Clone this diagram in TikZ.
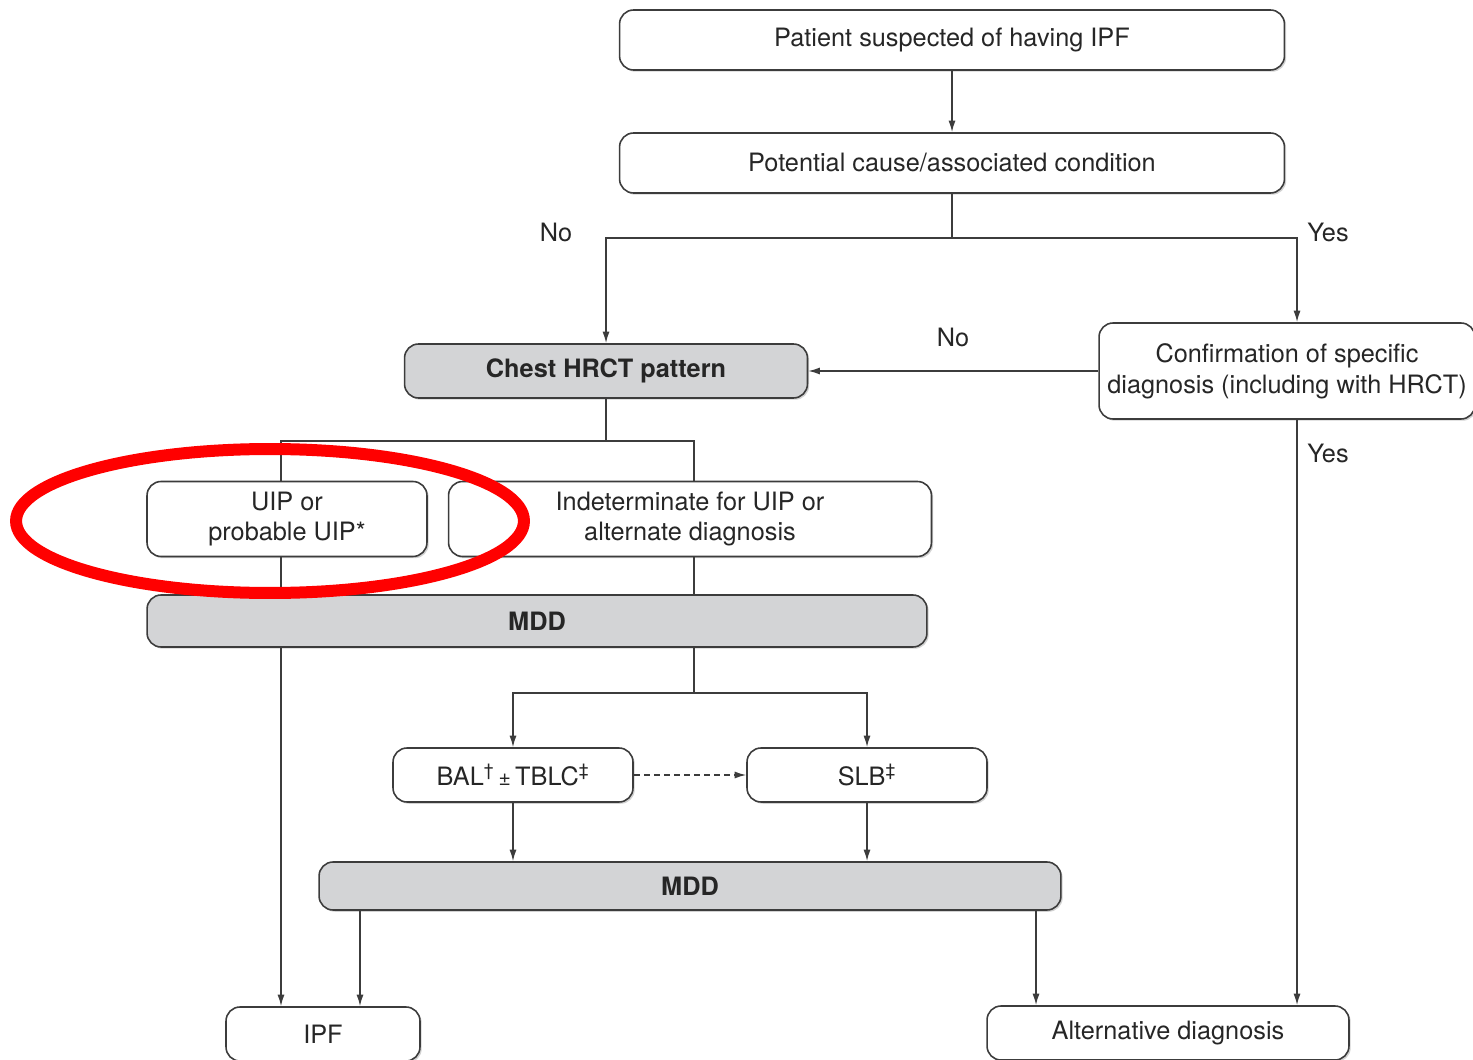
\documentclass[tikz,border=0pt]{standalone}
\usepackage{fontspec}
\setsansfont{TeX Gyre Heros}
\usetikzlibrary{arrows.meta}
\usetikzlibrary{shadows}

\definecolor{boxGray}{RGB}{211,212,214}
\definecolor{lineGray}{RGB}{60,60,60}

\begin{document}
\begin{tikzpicture}[x = 0.02cm, y = -0.02cm, font = \sffamily\fontsize{14.4}{17.5}\selectfont]
	\tikzstyle{boxStyle} = [shape = rectangle, rounded corners = 0.28cm, draw = lineGray, line width = 0.9pt, fill = white, inner sep = 0pt, align = center, text = black!85, drop shadow = {shadow xshift = 0.035cm, shadow yshift = -0.035cm, fill = black!35}]
	\tikzstyle{grayStyle} = [boxStyle, fill = boxGray, font = \sffamily\bfseries\fontsize{14.4}{17.5}\selectfont]
	\tikzstyle{lineStyle} = [draw = lineGray, line width = 0.85pt]
	\tikzstyle{arrowStyle} = [lineStyle, -{Latex[length = 0.23cm, width = 0.14cm]}]
	\tikzstyle{answerStyle} = [text = black!85, inner sep = 0pt]
	\useasboundingbox (0,0) rectangle (1473,1060);
	% boxes
	\node[boxStyle, minimum width = 13.3cm, minimum height = 1.2cm] (patient) at (952,40) {Patient suspected of having IPF};
	\node[boxStyle, minimum width = 13.3cm, minimum height = 1.2cm] (cause) at (952,163) {Potential cause/associated condition};
	\node[grayStyle, minimum width = 8.06cm, minimum height = 1.08cm] (hrct) at (606,371) {Chest HRCT pattern};
	\node[boxStyle, minimum width = 7.52cm, minimum height = 1.92cm] (confirm) at (1287,371) {Confirmation of specific\\diagnosis (including with HRCT)};
	\node[boxStyle, minimum width = 5.6cm, minimum height = 1.5cm] (uip) at (287,519) {UIP or\\probable UIP*};
	\node[boxStyle, minimum width = 9.66cm, minimum height = 1.5cm] (indet) at (690,519) {Indeterminate for UIP or\\alternate diagnosis};
	\node[grayStyle, minimum width = 15.6cm, minimum height = 1.04cm] (mdd1) at (537,621) {MDD};
	\node[boxStyle, minimum width = 4.8cm, minimum height = 1.08cm] (bal) at (513,775) {BAL\textsuperscript{\textdagger}\,{\fontsize{12}{14}\selectfont ±}\,TBLC\textsuperscript{\textdaggerdbl}};
	\node[boxStyle, minimum width = 4.8cm, minimum height = 1.08cm] (slb) at (867,775) {SLB\textsuperscript{\textdaggerdbl}};
	\node[grayStyle, minimum width = 14.84cm, minimum height = 0.96cm] (mdd2) at (690,886) {MDD};
	\node[boxStyle, minimum width = 3.88cm, minimum height = 1.08cm] (ipf) at (323,1034) {IPF};
	\node[boxStyle, minimum width = 7.24cm, minimum height = 1.08cm] (alt) at (1168,1033) {Alternative diagnosis};
	% answers
	\node[answerStyle] (noCause) at (556,232) {No};
	\node[answerStyle] (yesCause) at (1328,232) {Yes};
	\node[answerStyle] (noConfirm) at (953,337) {No};
	\node[answerStyle] (yesConfirm) at (1328,453) {Yes};
	% branch points
	\coordinate (fork1) at (952,238);
	\coordinate (yesCol) at (1297,238);
	\coordinate (uipCol) at (281,441);
	\coordinate (indetCol) at (694,441);
	\coordinate (balCol) at (513,693);
	\coordinate (slbCol) at (867,693);
	\coordinate (ipfCol) at (360,910);
	\coordinate (altCol) at (1036,910);
	% connectors
	\draw[arrowStyle] (patient) -- (cause);
	\draw[lineStyle] (cause.south) -- (fork1);
	\draw[arrowStyle] (fork1) -| (hrct.north);
	\draw[arrowStyle] (fork1) -- (yesCol) -- (yesCol |- confirm.north);
	\draw[arrowStyle] (confirm.west) -- (hrct.east);
	\draw[arrowStyle] (yesCol |- confirm.south) -- (yesCol |- alt.north);
	\draw[lineStyle] (hrct.south) -- (hrct.south |- uipCol);
	\draw[lineStyle] (uipCol |- uip.north) -- (uipCol) -- (indetCol) -- (indetCol |- indet.north);
	\draw[lineStyle] (uipCol |- uip.south) -- (uipCol |- mdd1.north);
	\draw[lineStyle] (indetCol |- indet.south) -- (indetCol |- mdd1.north);
	\draw[arrowStyle] (uipCol |- mdd1.south) -- (uipCol |- ipf.north);
	\draw[lineStyle] (indetCol |- mdd1.south) -- (indetCol |- balCol);
	\draw[arrowStyle] (balCol -| indetCol) -- (balCol) -- (bal.north);
	\draw[arrowStyle] (balCol -| indetCol) -- (slbCol) -- (slb.north);
	\draw[arrowStyle, dash pattern = on 0.12cm off 0.08cm] (bal.east) -- (slb.west);
	\draw[arrowStyle] (bal.south) -- (bal.south |- mdd2.north);
	\draw[arrowStyle] (slb.south) -- (slb.south |- mdd2.north);
	\draw[arrowStyle] (ipfCol) -- (ipfCol |- ipf.north);
	\draw[arrowStyle] (altCol) -- (altCol |- alt.north);
	% highlight
	\draw[red, line width = 0.24cm] (270,521) ellipse [x radius = 5.08cm, y radius = 1.44cm];
\end{tikzpicture}
\end{document}
